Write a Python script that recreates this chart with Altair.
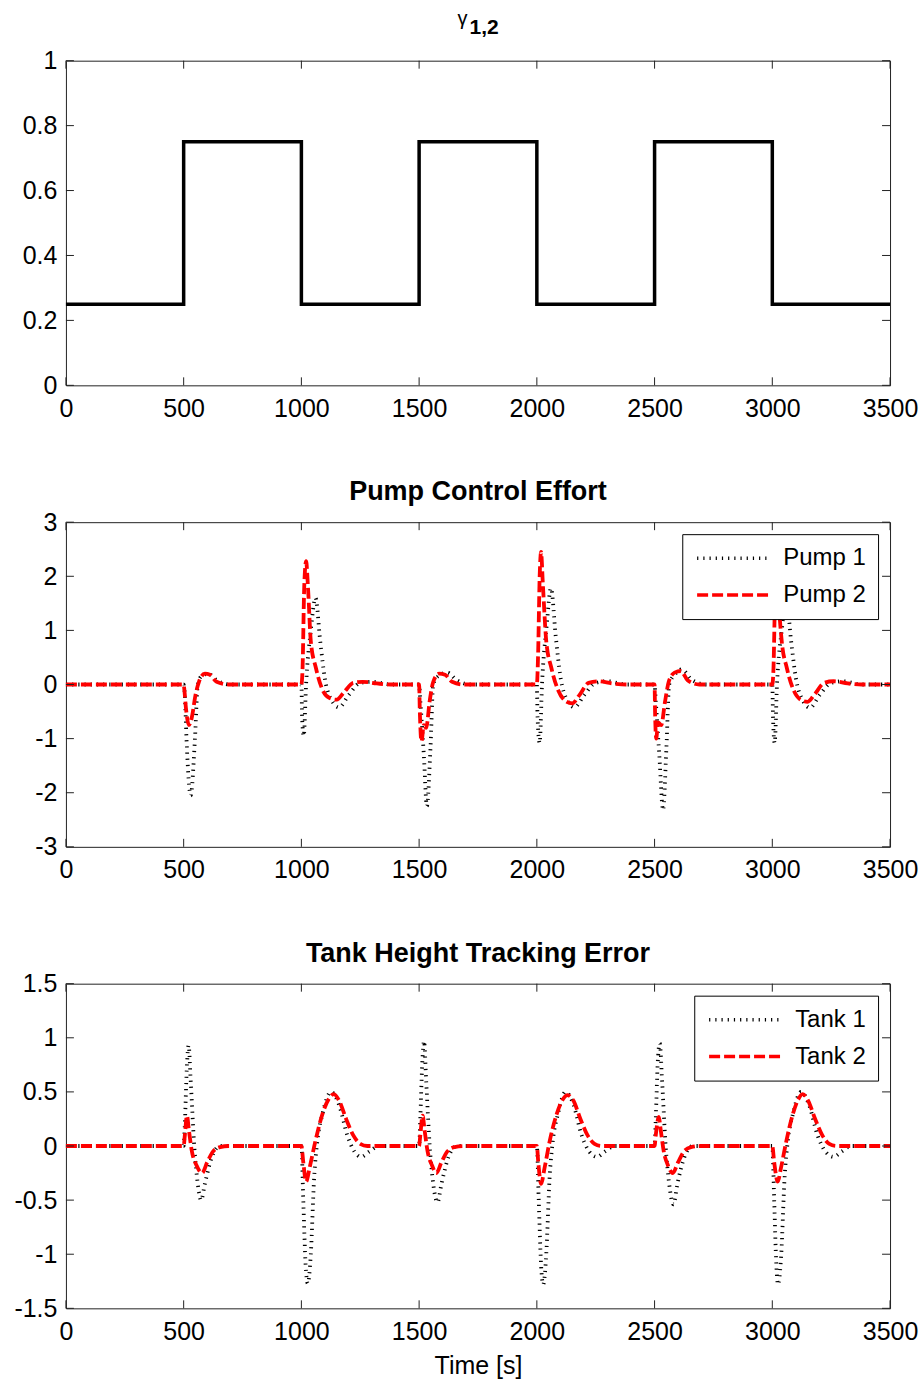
import altair as alt
import pandas as pd

FONT = "Liberation Sans"
W, H = 825, 325
TL = 8  # inward tick length (px)

# ---------------- data ----------------
X_TICKS = [0, 500, 1000, 1500, 2000, 2500, 3000, 3500]
Y_TICKS_GAMMA = [0, 0.2, 0.4, 0.6, 0.8, 1]
Y_TICKS_PUMP = [-3, -2, -1, 0, 1, 2, 3]
Y_TICKS_TANK = [-1.5, -1, -0.5, 0, 0.5, 1, 1.5]

GAMMA_T = [0, 500, 1000, 1500, 2000, 2500, 3000, 3500]
GAMMA_V = [0.25, 0.75, 0.25, 0.75, 0.25, 0.75, 0.25, 0.25]

PUMP1_T = [0, 500, 505, 512, 530, 548, 560, 575, 605, 640, 700,
           1000, 1003, 1010, 1020, 1040, 1060, 1080, 1100, 1130, 1160, 1200, 1250, 1300, 1380,
           1500, 1505, 1520, 1533, 1548, 1560, 1580, 1620, 1660, 1720,
           2000, 2003, 2012, 2022, 2042, 2060, 2080, 2100, 2130, 2160, 2200, 2250, 2300, 2380,
           2500, 2505, 2520, 2536, 2550, 2562, 2585, 2615, 2660, 2720,
           3000, 3003, 3010, 3020, 3040, 3060, 3080, 3100, 3130, 3160, 3200, 3250, 3300, 3380, 3500]
PUMP1_V = [0, 0, -0.2, -1.0, -2.05, -1.0, 0, 0.15, 0.2, 0.08, 0,
           0, -0.6, -0.95, 0, 1.0, 1.6, 0.8, 0.1, -0.3, -0.42, -0.2, 0.03, 0.05, 0,
           0, -0.3, -1.3, -2.25, -1.2, 0, 0.15, 0.22, 0.08, 0,
           0, -0.6, -1.08, 0, 1.1, 1.78, 0.9, 0.15, -0.3, -0.42, -0.2, 0.03, 0.06, 0,
           0, -0.3, -1.3, -2.32, -1.2, 0, 0.18, 0.28, 0.08, 0,
           0, -0.6, -1.08, 0, 1.0, 1.55, 0.8, 0.12, -0.3, -0.43, -0.2, 0.03, 0.06, 0, 0]

PUMP2_T = [0, 500, 503, 510, 522, 535, 550, 565, 590, 612, 640, 690,
           1000, 1005, 1012, 1020, 1028, 1040, 1062, 1090, 1120, 1150, 1180, 1220, 1260, 1320, 1380,
           1500, 1503, 1510, 1520, 1530, 1545, 1560, 1585, 1610, 1640, 1690,
           2000, 2005, 2012, 2018, 2025, 2040, 2062, 2090, 2120, 2150, 2180, 2220, 2260, 2320, 2380,
           2500, 2502, 2507, 2515, 2528, 2545, 2560, 2585, 2612, 2640, 2690,
           3000, 3005, 3012, 3018, 3026, 3040, 3062, 3090, 3120, 3150, 3180, 3220, 3260, 3320, 3380, 3500]
PUMP2_V = [0, 0, -0.1, -0.45, -0.75, -0.6, -0.2, 0.05, 0.2, 0.18, 0.05, 0,
           0, 0.3, 1.8, 2.28, 1.8, 0.8, 0.3, -0.1, -0.25, -0.28, -0.15, 0.03, 0.05, 0.02, 0,
           0, -0.5, -1.05, -0.75, -0.8, -0.3, 0.05, 0.2, 0.18, 0.05, 0,
           0, 0.5, 2.0, 2.45, 1.9, 0.8, 0.3, -0.1, -0.3, -0.35, -0.2, 0.03, 0.06, 0.02, 0,
           0, -0.5, -1.0, -0.7, -0.75, -0.3, 0.05, 0.22, 0.25, 0.08, 0,
           0, 0.3, 1.7, 2.25, 1.6, 0.8, 0.3, -0.1, -0.28, -0.32, -0.18, 0.03, 0.06, 0.02, 0, 0]

TANK1_T = [0, 500, 505, 513, 521, 530, 545, 560, 574, 590, 620, 655,
           1000, 1008, 1018, 1027, 1040, 1054, 1068, 1090, 1126, 1160, 1195, 1225, 1253, 1290, 1330,
           1500, 1505, 1513, 1521, 1530, 1545, 1560, 1578, 1595, 1625, 1660,
           2000, 2008, 2018, 2027, 2040, 2054, 2068, 2090, 2122, 2156, 2190, 2222, 2255, 2290, 2330,
           2500, 2505, 2513, 2522, 2532, 2547, 2562, 2580, 2597, 2627, 2662,
           3000, 3008, 3017, 3024, 3038, 3052, 3066, 3088, 3122, 3156, 3192, 3225, 3260, 3295, 3335, 3500]
TANK1_V = [0, 0, 0.2, 0.7, 0.93, 0.6, 0, -0.35, -0.5, -0.35, -0.1, 0,
           0, -0.5, -1.1, -1.27, -1.0, -0.3, 0.05, 0.3, 0.5, 0.38, 0.1, -0.05, -0.1, -0.05, 0,
           0, 0.25, 0.75, 0.97, 0.6, 0, -0.35, -0.52, -0.35, -0.1, 0,
           0, -0.5, -1.1, -1.28, -1.0, -0.3, 0.05, 0.3, 0.5, 0.38, 0.1, -0.05, -0.1, -0.05, 0,
           0, 0.25, 0.75, 0.95, 0.6, 0, -0.35, -0.54, -0.35, -0.1, 0,
           0, -0.5, -1.1, -1.28, -1.0, -0.3, 0.05, 0.3, 0.5, 0.38, 0.1, -0.05, -0.1, -0.05, 0, 0]

TANK2_T = [0, 500, 505, 514, 522, 535, 555, 578, 600, 625, 655, 690,
           1000, 1008, 1020, 1035, 1060, 1090, 1115, 1138, 1160, 1190, 1220, 1250, 1280,
           1500, 1505, 1515, 1523, 1536, 1555, 1573, 1595, 1620, 1650, 1690,
           2000, 2006, 2018, 2033, 2055, 2085, 2110, 2131, 2155, 2185, 2215, 2245, 2275,
           2500, 2505, 2518, 2526, 2539, 2557, 2577, 2600, 2625, 2655, 2695,
           3000, 3008, 3023, 3037, 3060, 3088, 3110, 3129, 3152, 3182, 3212, 3242, 3272, 3500]
TANK2_V = [0, 0, 0.1, 0.28, 0.15, -0.05, -0.18, -0.25, -0.15, -0.05, -0.01, 0,
           0, -0.15, -0.33, -0.2, 0.05, 0.3, 0.43, 0.48, 0.42, 0.25, 0.1, 0.02, 0,
           0, 0.1, 0.28, 0.15, -0.05, -0.18, -0.25, -0.15, -0.05, -0.01, 0,
           0, -0.15, -0.35, -0.2, 0.05, 0.3, 0.43, 0.47, 0.42, 0.25, 0.1, 0.02, 0,
           0, 0.1, 0.27, 0.15, -0.05, -0.18, -0.25, -0.15, -0.05, -0.01, 0,
           0, -0.15, -0.33, -0.2, 0.05, 0.3, 0.43, 0.48, 0.42, 0.25, 0.1, 0.02, 0, 0]

PUMP_NAMES = ["Pump 1", "Pump 2"]
TANK_NAMES = ["Tank 1", "Tank 2"]

# ---------------- helpers ----------------
def series_df(names, ts, vs):
    frames = []
    for n, t, v in zip(names, ts, vs):
        frames.append(pd.DataFrame({"t": t, "v": v, "s": n}))
    return pd.concat(frames, ignore_index=True)


XSCALE = alt.Scale(domain=[0, 3500], nice=False, zero=False)


def x_enc(title=None):
    return alt.X(
        "t:Q", scale=XSCALE, title=title,
        axis=alt.Axis(values=X_TICKS, format="d", ticks=False, domain=False, grid=False,
                      labelFont=FONT, labelFontSize=25, labelColor="black",
                      labelPadding=11, labelFlush=False,
                      titleFont=FONT, titleFontSize=25, titleFontWeight="normal",
                      titleColor="black", titlePadding=9),
    )


def y_enc(ticks, domain):
    return alt.Y(
        "v:Q", scale=alt.Scale(domain=domain, nice=False, zero=False), title=None,
        axis=alt.Axis(values=ticks, format="~g", ticks=False, domain=False, grid=False,
                      labelFont=FONT, labelFontSize=25, labelColor="black",
                      labelPadding=9, labelFlush=False,
                      labelExpr="replace(datum.label, '\u2212', '-')"),
    )


def tick_layers(yticks, ydomain, xtitle=None):
    xt = alt.Chart(pd.DataFrame({"t": X_TICKS}))
    yt = alt.Chart(pd.DataFrame({"v": yticks}))
    X = x_enc(xtitle)
    Y = y_enc(yticks, ydomain)
    rule = dict(color="#222222", strokeWidth=1)
    return [
        xt.mark_rule(**rule).encode(x=X, y=alt.value(H), y2=alt.value(H - TL)),
        xt.mark_rule(**rule).encode(x=X, y=alt.value(0), y2=alt.value(TL)),
        yt.mark_rule(**rule).encode(y=Y, x=alt.value(0), x2=alt.value(TL)),
        yt.mark_rule(**rule).encode(y=Y, x=alt.value(W), x2=alt.value(W - TL)),
    ]


# legend symbol: a long horizontal stroke (custom path), label placed after it
LEGEND = alt.Legend(
    title=None, orient="top-right", offset=12, fillColor="white",
    strokeColor="black", padding=12, labelFont=FONT, labelFontSize=24,
    labelColor="black", symbolType="M-1,0H7", symbolSize=333,
    symbolStrokeWidth=3.5, rowPadding=13, labelOffset=65,
)


def line_layer(df, names, yticks, ydomain, xtitle=None):
    return alt.Chart(df).mark_line(interpolate="monotone", strokeWidth=3.8).encode(
        x=x_enc(xtitle),
        y=y_enc(yticks, ydomain),
        color=alt.Color("s:N", scale=alt.Scale(domain=names, range=["black", "#ff0000"]),
                        legend=LEGEND),
        strokeDash=alt.StrokeDash("s:N", scale=alt.Scale(domain=names, range=[[1.2, 5], [11, 4]]),
                                  legend=LEGEND),
        detail="s:N",
    )


TITLE_KW = dict(font=FONT, fontSize=27, fontWeight="bold", color="black",
                offset=4, frame="group", anchor="middle")

# ---------------- panel 1: gamma ----------------
gdf = pd.DataFrame({"t": GAMMA_T, "v": GAMMA_V})
g_line = alt.Chart(gdf).mark_line(interpolate="step-after", color="black", strokeWidth=3.5).encode(
    x=x_enc(), y=y_enc(Y_TICKS_GAMMA, [0, 1])
)
one = pd.DataFrame({"k": [0]})
g_title1 = alt.Chart(one).mark_text(text="γ", font=FONT, fontSize=20, color="black",
                                     align="center", baseline="middle").encode(
    x=alt.value(397), y=alt.value(-42))
g_title2 = alt.Chart(one).mark_text(text="1,2", font=FONT, fontSize=21, fontWeight="bold",
                                     color="black", align="left", baseline="middle").encode(
    x=alt.value(404), y=alt.value(-33))
p1 = alt.layer(g_line, *tick_layers(Y_TICKS_GAMMA, [0, 1]), g_title1, g_title2).properties(
    width=W, height=H)

# ---------------- panel 2: pumps ----------------
pdf = series_df(PUMP_NAMES, [PUMP1_T, PUMP2_T], [PUMP1_V, PUMP2_V])
p2 = alt.layer(
    line_layer(pdf, PUMP_NAMES, Y_TICKS_PUMP, [-3, 3]),
    *tick_layers(Y_TICKS_PUMP, [-3, 3]),
).properties(width=W, height=H, title=alt.TitleParams("Pump Control Effort", **TITLE_KW))

# ---------------- panel 3: tanks ----------------
tdf = series_df(TANK_NAMES, [TANK1_T, TANK2_T], [TANK1_V, TANK2_V])
p3 = alt.layer(
    line_layer(tdf, TANK_NAMES, Y_TICKS_TANK, [-1.5, 1.5], "Time [s]"),
    *tick_layers(Y_TICKS_TANK, [-1.5, 1.5], "Time [s]"),
).properties(width=W, height=H, title=alt.TitleParams("Tank Height Tracking Error", **TITLE_KW))

chart = (
    alt.vconcat(p1, p2, p3, spacing=55)
    .resolve_scale(color="independent", strokeDash="independent")
    .configure(padding={"left": 13, "top": 7, "right": 5, "bottom": 5}, background="white")
    .configure_view(stroke="#222222", strokeWidth=1)
)

chart.save("out.html", embed_options={"renderer": "svg", "actions": False})
